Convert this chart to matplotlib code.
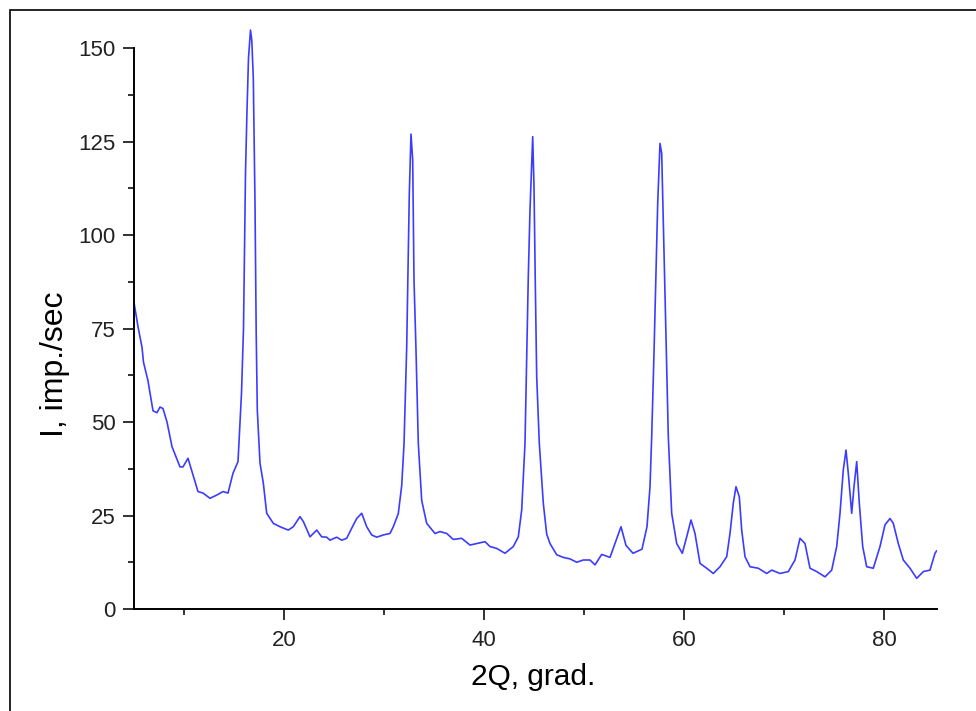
import numpy as np
import matplotlib.pyplot as plt
from matplotlib.patches import Rectangle

plt.rcParams['font.family'] = ['Liberation Sans', 'DejaVu Sans']

# 2theta (deg) and intensity (imp./sec)
two_theta = [5.0, 5.4, 5.8, 5.95, 6.4, 6.9, 7.3, 7.6, 7.9, 8.3, 8.8, 9.6, 9.9, 10.4, 10.8,
             11.4, 11.9, 12.6, 13.3, 13.9, 14.4, 14.9, 15.4, 15.75, 15.95, 16.05, 16.15,
             16.3, 16.45, 16.65, 16.78, 16.93, 17.1, 17.17, 17.22, 17.33, 17.6, 17.93,
             18.27, 18.93, 19.6, 20.43, 20.93, 21.6, 21.93, 22.6, 23.27, 23.77, 24.27,
             24.6, 25.27, 25.77, 26.27, 26.77, 27.27, 27.77, 28.27, 28.77, 29.27, 29.93,
             30.6, 30.93, 31.43, 31.77, 32.0, 32.27, 32.43, 32.53, 32.7, 32.87, 33.0,
             33.2, 33.43, 33.77, 34.27, 35.1, 35.6, 36.27, 36.93, 37.77, 38.6, 39.27,
             40.1, 40.6, 41.27, 42.1, 42.93, 43.43, 43.77, 44.1, 44.27, 44.43, 44.6,
             44.87, 45.0, 45.13, 45.27, 45.53, 45.93, 46.27, 46.6, 47.27, 47.93, 48.6,
             49.27, 49.93, 50.6, 51.1, 51.77, 52.6, 53.1, 53.7, 54.2, 54.9, 55.8, 56.3,
             56.6, 56.77, 57.0, 57.2, 57.37, 57.6, 57.77, 57.93, 58.2, 58.43, 58.77,
             59.27, 59.83, 60.27, 60.7, 61.1, 61.6, 62.27, 62.93, 63.6, 64.27, 64.6,
             64.93, 65.2, 65.53, 65.77, 66.1, 66.6, 67.43, 68.27, 68.77, 69.6, 70.43,
             71.1, 71.6, 72.1, 72.6, 73.27, 74.1, 74.77, 75.27, 75.6, 75.93, 76.2,
             76.43, 76.77, 77.0, 77.27, 77.53, 77.87, 78.27, 78.93, 79.6, 80.1, 80.6,
             80.93, 81.43, 81.93, 82.6, 83.27, 83.93, 84.6, 85.1, 85.25]
intensity = [82, 75.5, 70, 66, 61, 53, 52.5, 54, 53.6, 50, 43.4, 38, 38, 40.3, 36.7,
             31.4, 31, 29.6, 30.5, 31.4, 31, 36.3, 39.4, 57.7, 75, 95, 116.6,
             133.4, 147.3, 154.8, 152, 142, 108.6, 88.8, 73.8, 53.2, 39, 33.7,
             25.6, 22.9, 22, 21.1, 22, 24.7, 23.4, 19.3, 21.1, 19.3, 19.2,
             18.4, 19.2, 18.4, 18.9, 21.6, 24.2, 25.6, 22, 19.8, 19.2, 19.8,
             20.2, 22, 25.5, 33, 44, 70, 95, 111, 127, 120, 88,
             69.3, 44.3, 29, 22.9, 20.2, 20.7, 20.2, 18.6, 18.9, 17.1, 17.5,
             18, 16.7, 16.2, 14.9, 16.7, 19.3, 26.5, 44.3, 66.6, 88.9, 106.7,
             126.3, 113, 87.1, 62.1, 44.3, 28.3, 20, 17.5, 14.5, 13.8, 13.4,
             12.5, 13.1, 13.1, 11.8, 14.6, 13.8, 17.5, 22, 17, 14.9, 16, 22,
             32.7, 46.1, 68.4, 90.6, 108.5, 124.5, 121.8, 104, 72.8, 46.1, 25.6,
             17.5, 14.9, 19.3, 23.8, 20.2, 12.2, 10.9, 9.5, 11.3, 14, 20.2,
             28.3, 32.7, 30, 21.1, 14, 11.3, 10.9, 9.5, 10.4, 9.5, 10,
             13.1, 18.9, 17.5, 10.9, 10, 8.6, 10.4, 16.7, 25.6, 37.2, 42.5,
             36.3, 25.6, 32.7, 39.4, 28.3, 16.7, 11.3, 10.9, 16.7, 22.5, 24.2,
             22.9, 17.5, 13.1, 10.9, 8.2, 10, 10.4, 14.9, 15.5]

fig = plt.figure(figsize=(9.76, 7.11), dpi=100)
ax = fig.add_axes([134 / 976, 1 - 609 / 711, 803 / 976, 583.4 / 711])

ax.plot(two_theta, intensity, color='#3c3cff', lw=1.2)

ax.set_xlim(5, 85.3)
ax.set_ylim(0, 156)
ax.set_xticks([20, 40, 60, 80])
ax.set_xticks(np.arange(10, 85, 10), minor=True)
ax.set_yticks(np.arange(0, 151, 25))
ax.set_yticks(np.arange(12.5, 150, 25), minor=True)

for s in ['top', 'right']:
    ax.spines[s].set_visible(False)
for s in ['left', 'bottom']:
    ax.spines[s].set_linewidth(1.4)
ax.spines['left'].set_bounds(0, 150)

ax.tick_params(which='major', direction='out', length=8, width=1.3, labelsize=16, colors='#222222')
ax.tick_params(axis='y', which='major', pad=5)
ax.tick_params(axis='x', which='major', pad=7)
ax.tick_params(which='minor', direction='out', length=4, width=1.3, color='#222222')

ax.set_xlabel('2Q, grad.', fontsize=21.5)
ax.set_ylabel('I, imp./sec', fontsize=23)
ax.xaxis.set_label_coords(0.497, -0.092)
ax.yaxis.set_label_coords(-0.08, 0.42)

# outer frame of the original picture
fig.add_artist(Rectangle((10 / 976, -0.1), 1.2, 1.1 - 10 / 711, transform=fig.transFigure,
                         fill=False, edgecolor='black', lw=1.2))

fig.savefig('out.png', dpi=100)
